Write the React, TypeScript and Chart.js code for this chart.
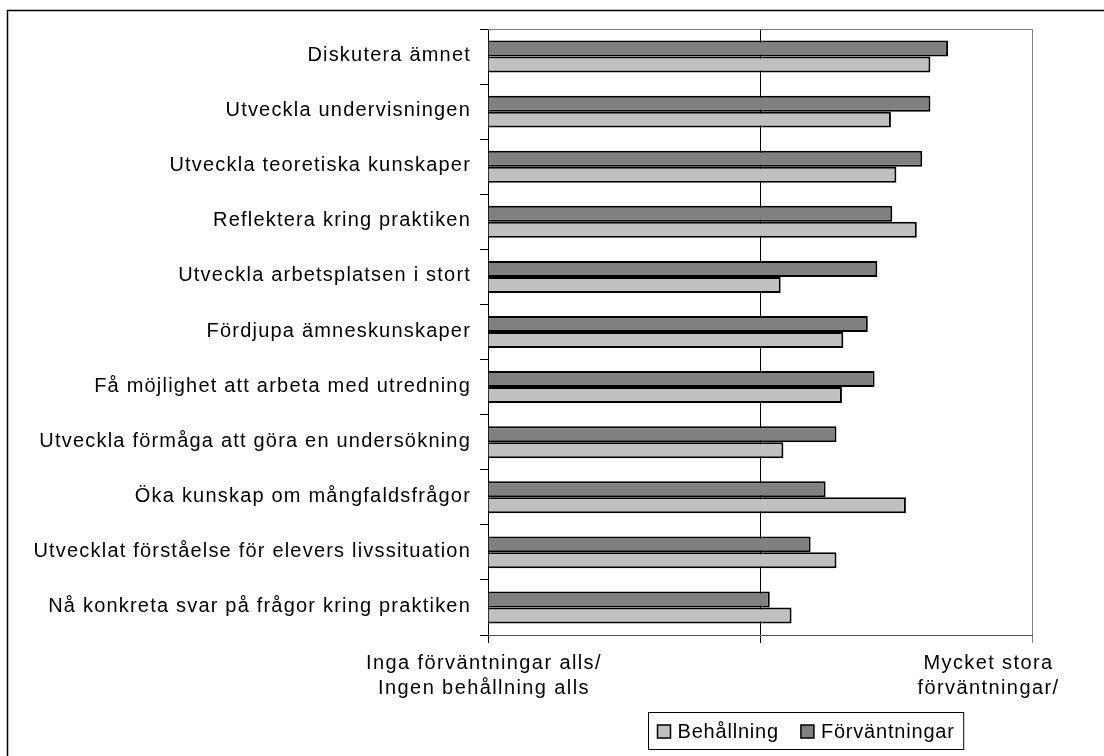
import React, { useEffect, useRef } from 'react';
import { Chart, registerables } from 'chart.js';

Chart.register(...registerables);

// ---- data ----
const categories = [
  'Diskutera ämnet',
  'Utveckla undervisningen',
  'Utveckla teoretiska kunskaper',
  'Reflektera kring praktiken',
  'Utveckla arbetsplatsen i stort',
  'Fördjupa ämneskunskaper',
  'Få möjlighet att arbeta med utredning',
  'Utveckla förmåga att göra en undersökning',
  'Öka kunskap om mångfaldsfrågor',
  'Utvecklat förståelse för elevers livssituation',
  'Nå konkreta svar på frågor kring praktiken',
];

const forvantningar = [4.38, 4.25, 4.19, 3.97, 3.86, 3.79, 3.84, 3.56, 3.48, 3.37, 3.07];
const behallning = [4.25, 3.96, 4.0, 4.15, 3.15, 3.61, 3.6, 3.17, 4.07, 3.56, 3.23];

const seriesNames = ['Förväntningar', 'Behållning'];
const seriesColors = ['#808080', '#c0c0c0'];

const scaleMin = 1;
const scaleMax = 5;
const scaleStep = 2;
const minLabel = ['Inga förväntningar alls/', 'Ingen behållning alls'];
const maxLabel = ['Mycket stora', 'förväntningar/'];

const FONT = "'Liberation Sans', Arial, Helvetica, sans-serif";

const spacingPlugin = {
  id: 'spacing',
  beforeDraw(chart: any) {
    (chart.ctx as any).letterSpacing = '1.2px';
  },
};

const framePlugin = {
  id: 'frame',
  beforeDatasetsDraw(chart: any) {
    const { ctx, chartArea } = chart;
    ctx.save();
    ctx.strokeStyle = '#808080';
    ctx.lineWidth = 1;
    ctx.beginPath();
    ctx.moveTo(chartArea.left, Math.round(chartArea.top) + 0.5);
    ctx.lineTo(chartArea.right, Math.round(chartArea.top) + 0.5);
    ctx.stroke();
    ctx.restore();
  },
  afterDraw(chart: any) {
    const { ctx } = chart;
    ctx.save();
    ctx.strokeStyle = '#000';
    ctx.lineWidth = 1.5;
    ctx.beginPath();
    ctx.moveTo(7.5, chart.height + 2);
    ctx.lineTo(7.5, 10.5);
    ctx.lineTo(chart.width + 2, 10.5);
    ctx.stroke();
    ctx.restore();
  },
};

const xLabelsPlugin = {
  id: 'xLabels',
  afterDraw(chart: any) {
    const { ctx } = chart;
    const xs = chart.scales.x;
    ctx.save();
    ctx.font = `20px ${FONT}`;
    (ctx as any).letterSpacing = '1.4px';
    ctx.fillStyle = '#000';
    ctx.textAlign = 'center';
    ctx.textBaseline = 'middle';
    const lx = xs.getPixelForValue(scaleMin) - 4;
    const rx = xs.getPixelForValue(scaleMax) - 44;
    const y0 = xs.top + 28;
    const lh = 25;
    minLabel.forEach((t, i) => ctx.fillText(t, lx, y0 + i * lh));
    maxLabel.forEach((t, i) => ctx.fillText(t, rx, y0 + i * lh));
    ctx.restore();
  },
};

const legendPlugin = {
  id: 'boxLegend',
  afterDraw(chart: any) {
    const { ctx } = chart;
    ctx.save();
    ctx.font = `20px ${FONT}`;
    (ctx as any).letterSpacing = '0.8px';
    const items = [...chart.data.datasets].reverse();
    const sq = 13;
    const gapSqText = 7;
    const gapItems = 22;
    const padX = 9;
    const widths = items.map((ds: any) => sq + gapSqText + ctx.measureText(ds.label).width);
    const total = widths.reduce((a: number, b: number) => a + b, 0) + gapItems * (items.length - 1) + padX * 2;
    const cx = 805.5;
    const top = 712.5;
    const h = 37;
    const left = Math.round(cx - total / 2) + 0.5;
    ctx.strokeStyle = '#000';
    ctx.lineWidth = 1;
    ctx.fillStyle = '#fff';
    ctx.fillRect(left, top, total, h);
    ctx.strokeRect(left, top, total, h);
    let x = left + padX;
    const cy = top + h / 2;
    items.forEach((ds: any, i: number) => {
      ctx.fillStyle = ds.backgroundColor;
      ctx.fillRect(x, Math.round(cy - sq / 2), sq, sq);
      ctx.lineWidth = 1.5;
      ctx.strokeStyle = '#000';
      ctx.strokeRect(x, Math.round(cy - sq / 2), sq, sq);
      ctx.fillStyle = '#000';
      ctx.textAlign = 'left';
      ctx.textBaseline = 'middle';
      ctx.fillText(ds.label, x + sq + gapSqText, cy + 1);
      x += widths[i] + gapItems;
    });
    ctx.restore();
  },
};

export default function App() {
  const canvasRef = useRef<HTMLCanvasElement | null>(null);

  useEffect(() => {
    if (!canvasRef.current) return;
    const chart = new Chart(canvasRef.current, {
      type: 'bar',
      data: {
        labels: categories,
        datasets: [
          {
            label: seriesNames[0],
            data: forvantningar,
            backgroundColor: seriesColors[0],
            borderColor: '#000',
            borderWidth: 2,
            base: scaleMin,
            categoryPercentage: 0.58,
            barPercentage: 1,
          } as any,
          {
            label: seriesNames[1],
            data: behallning,
            backgroundColor: seriesColors[1],
            borderColor: '#000',
            borderWidth: 2,
            base: scaleMin,
            categoryPercentage: 0.58,
            barPercentage: 1,
          } as any,
        ],
      },
      options: {
        indexAxis: 'y',
        responsive: false,
        animation: false,
        events: [],
        layout: { padding: { left: 0, right: 71.5, top: 29, bottom: 0 } },
        plugins: {
          legend: { display: false },
          tooltip: { enabled: false },
          title: { display: false },
        },
        scales: {
          x: {
            type: 'linear',
            min: scaleMin,
            max: scaleMax,
            ticks: { stepSize: scaleStep, display: false },
            grid: {
              drawOnChartArea: true,
              drawTicks: true,
              tickLength: 8,
              lineWidth: 1,
              color: (c: any) => (c.tick && c.tick.value === scaleMax ? '#808080' : '#000'),
            },
            border: { display: true, color: '#505050', width: 1 },
            afterFit: (s: any) => {
              s.height = 121;
            },
          },
          y: {
            type: 'category',
            ticks: {
              font: { family: FONT, size: 20 },
              color: '#000',
              padding: 9,
              autoSkip: false,
              labelOffset: -1,
            },
            grid: {
              drawOnChartArea: false,
              drawTicks: true,
              tickLength: 8,
              color: '#000',
              offset: true,
            },
            border: { display: true, color: '#000', width: 1 },
            afterFit: (s: any) => {
              s.width = 488;
            },
          },
        },
      },
      plugins: [spacingPlugin, framePlugin, xLabelsPlugin, legendPlugin],
    });
    return () => chart.destroy();
  }, []);

  return (
    <div style={{ position: 'absolute', left: 0, top: 0, width: 1104, height: 756, background: '#fff' }}>
      <canvas ref={canvasRef} width={1104} height={756} style={{ display: 'block' }} />
    </div>
  );
}
